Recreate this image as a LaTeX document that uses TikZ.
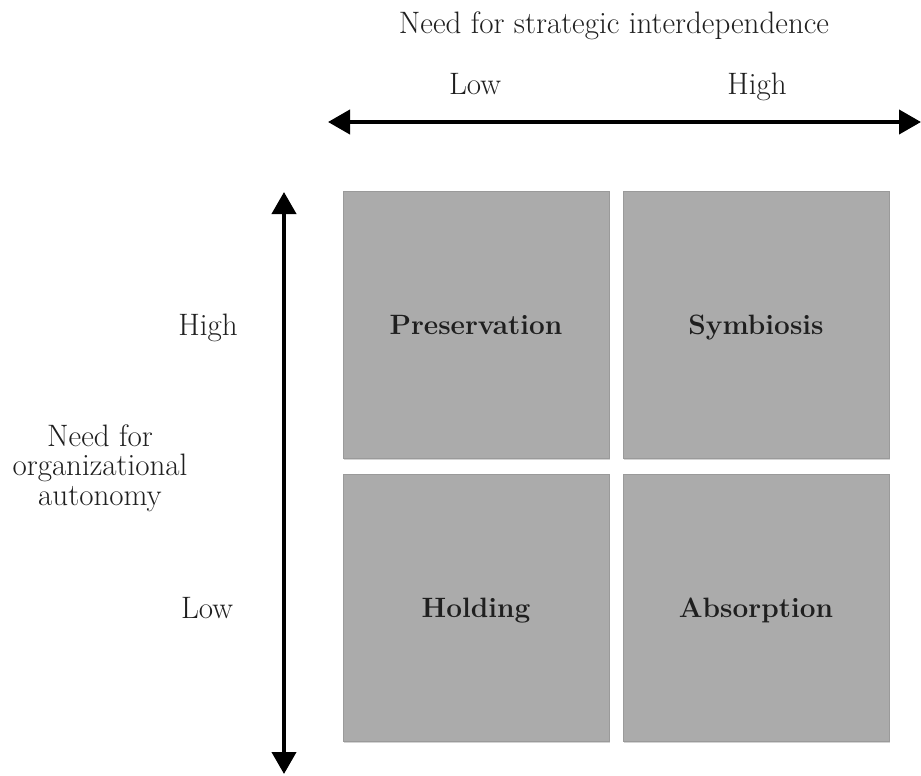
\documentclass[tikz,border=0pt]{standalone}
\usetikzlibrary{arrows.meta, positioning, shadows}
\definecolor{boxfill}{HTML}{ABABAB}
\definecolor{boxedge}{HTML}{9A9A9A}

\begin{document}
\begin{tikzpicture}[x=1pt, y=-1pt,
    every node/.style={font=\fontsize{31}{29.5}\selectfont, text=black!88},
    quad/.style={draw=boxedge, fill=boxfill, minimum width=266pt, minimum height=267pt,
                 inner sep=0pt, drop shadow={shadow xshift=1pt, shadow yshift=-2pt, opacity=0.35}},
    qlbl/.style={anchor=base, font=\fontsize{28}{32}\selectfont\bfseries},
    axis/.style={line width=4pt, {Triangle[length=22pt, width=24pt]}-{Triangle[length=22pt, width=24pt]}},
    lbl/.style={anchor=base, inner sep=0pt}
]
    \useasboundingbox (0,0) rectangle (921,776);

    % Quadrants
    \node[quad] (pres) at (476, 324.5) {};
    \node[quad] (symb) at (756, 324.5) {};
    \node[quad] (hold) at (476, 607.5) {};
    \node[quad] (absp) at (756, 607.5) {};
    \node[qlbl] (lpres) at (476, 334) {Preservation};
    \node[qlbl] (lsymb) at (756, 334) {Symbiosis};
    \node[qlbl] (lhold) at (476, 617) {Holding};
    \node[qlbl] (labsp) at (756, 617) {Absorption};

    % Horizontal axis
    \node[lbl] (htitle) at (614, 34) {Need for strategic interdependence};
    \node[lbl] (hlow)   at (475, 95) {Low};
    \node[lbl] (hhigh)  at (757, 95) {High};
    \coordinate (hl) at (328, 122);
    \coordinate (hr) at (921, 122);
    \draw[axis] (hl) -- (hr);

    % Vertical axis
    \node[lbl] (vhigh)  at (208, 335) {High};
    \node[lbl] (vlow)   at (207, 618) {Low};
    \node[align=center, inner sep=0pt] (vtitle) at (100, 468) {Need for\\organizational\\autonomy};
    \coordinate (vt) at (284, 192);
    \coordinate (vb) at (284, 774);
    \draw[axis] (vb) -- (vt);
\end{tikzpicture}
\end{document}
